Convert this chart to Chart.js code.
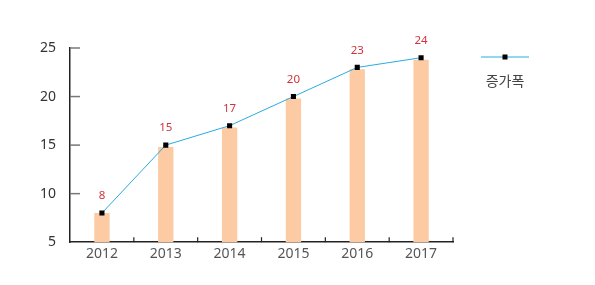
<!DOCTYPE html>
<html>
<head>
<meta charset="utf-8">
<script src="https://cdn.jsdelivr.net/npm/chart.js@4"></script>
<style>
  html, body { margin: 0; padding: 0; background: #fff; }
  #wrap { width: 595px; height: 285px; }
</style>
</head>
<body>
<div id="wrap"><canvas id="mixChart"></canvas></div>
<script>
  // data
  var years = ['2012', '2013', '2014', '2015', '2016', '2017'];
  var barValues = [8, 14.8, 16.8, 19.8, 22.8, 23.8];
  var lineValues = [8, 15, 17, 20, 23, 24];
  var seriesName = '증가폭';

  var FONT = "'Noto Sans', 'Noto Sans CJK KR', sans-serif";

  // small ticks drawn inward, labels over points, legend on the right
  var extras = {
    id: 'extras',
    afterDraw: function (chart) {
      var ctx = chart.ctx;
      var xs = chart.scales.x, ys = chart.scales.y;
      var area = chart.chartArea;
      ctx.save();

      // y ticks
      ctx.strokeStyle = '#777';
      ctx.lineWidth = 1.5;
      ys.ticks.forEach(function (t) {
        var y = ys.getPixelForValue(t.value);
        if (t.value === ys.min) return;
        ctx.beginPath();
        ctx.moveTo(area.left, y);
        ctx.lineTo(area.left + 10, y);
        ctx.stroke();
      });

      // x ticks between categories
      ctx.strokeStyle = '#222';
      ctx.lineWidth = 1.2;
      for (var i = 1; i <= years.length; i++) {
        var x = i < years.length
          ? (xs.getPixelForValue(i - 1) + xs.getPixelForValue(i)) / 2
          : area.right;
        ctx.beginPath();
        ctx.moveTo(x, area.bottom);
        ctx.lineTo(x, area.bottom - 5);
        ctx.stroke();
      }

      // value labels
      var meta = chart.getDatasetMeta(1);
      ctx.fillStyle = '#d0343c';
      ctx.font = '11.5px ' + FONT;
      ctx.textAlign = 'center';
      ctx.textBaseline = 'middle';
      meta.data.forEach(function (pt, i) {
        ctx.fillText(String(lineValues[i]), pt.x, pt.y - 17);
      });

      // legend
      var lx = 505, ly = 57;
      ctx.strokeStyle = '#29abe2';
      ctx.lineWidth = 1;
      ctx.beginPath();
      ctx.moveTo(lx - 24, ly);
      ctx.lineTo(lx + 24, ly);
      ctx.stroke();
      ctx.fillStyle = '#000';
      ctx.fillRect(lx - 2.5, ly - 2.5, 5, 5);
      ctx.fillStyle = '#444';
      ctx.font = '14px ' + FONT;
      ctx.fillText(seriesName, lx, ly + 25);

      ctx.restore();
    }
  };

  var ctx = document.getElementById('mixChart').getContext('2d');
  var mixChart = new Chart(ctx, {
    type: 'bar',
    data: {
      labels: years,
      datasets: [{
        type: 'bar',
        label: seriesName,
        data: barValues,
        backgroundColor: '#fccba4',
        barPercentage: 0.24,
        categoryPercentage: 1,
        order: 2
      }, {
        type: 'line',
        label: seriesName,
        data: lineValues,
        borderColor: '#29abe2',
        borderWidth: 1,
        pointStyle: 'rect',
        pointRadius: 3.6,
        pointBackgroundColor: '#000',
        pointBorderColor: '#000',
        pointBorderWidth: 0,
        tension: 0,
        order: 1
      }]
    },
    options: {
      responsive: true,
      maintainAspectRatio: false,
      animation: false,
      layout: { padding: { left: 34, right: 142, top: 48, bottom: 20 } },
      plugins: {
        legend: { display: false },
        tooltip: { enabled: false }
      },
      scales: {
        x: {
          offset: true,
          grid: { display: false, drawTicks: false, tickLength: 0 },
          border: { color: '#222', width: 1.5 },
          ticks: { color: '#555', font: { family: FONT, size: 14 }, padding: 3 }
        },
        y: {
          min: 5,
          max: 25,
          grid: { display: false },
          border: { color: '#222', width: 1.5 },
          ticks: { stepSize: 5, color: '#333', font: { family: FONT, size: 14 }, padding: 6 }
        }
      }
    },
    plugins: [extras]
  });
</script>
</body>
</html>
